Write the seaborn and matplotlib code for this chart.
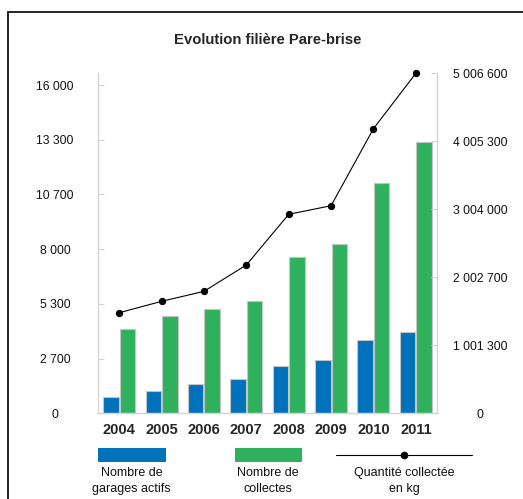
import matplotlib
matplotlib.use("Agg")
import matplotlib.pyplot as plt
from matplotlib.patches import Rectangle
from matplotlib.lines import Line2D
import numpy as np
import pandas as pd
import seaborn as sns

# data
years = ["2004", "2005", "2006", "2007", "2008", "2009", "2010", "2011"]
garages_actifs = [810, 1090, 1410, 1690, 2300, 2580, 3560, 3960]
collectes = [4110, 4730, 5100, 5490, 7630, 8240, 11220, 13240]
quantite_kg = [1481000, 1649000, 1796000, 2184000, 2930000, 3057000, 4191000, 5006600]

left_ticklabels = ["0", "2 700", "5 300", "8 000", "10 700", "13 300", "16 000"]
right_ticklabels = ["0", "1 001 300", "2 002 700", "3 004 000", "4 005 300", "5 006 600"]

series_names = ["Nombre de garages actifs", "Nombre de collectes"]
blue = "#0071bb"
green = "#2fb05d"
grey = "#d4d4d4"

sns.set_style("white")
plt.rcParams["font.family"] = ["Liberation Sans", "DejaVu Sans"]

df = pd.DataFrame({
    "annee": years * 2,
    "valeur": garages_actifs + collectes,
    "serie": [series_names[0]] * len(years) + [series_names[1]] * len(years),
})

fig = plt.figure(figsize=(5.23, 4.99), dpi=100)
ax = fig.add_axes([0.1874, 0.1717, 0.6482, 0.6814])

sns.barplot(data=df, x="annee", y="valeur", hue="serie", hue_order=series_names,
            palette=[blue, green], saturation=1, width=0.78, gap=0.06,
            edgecolor="#c4c4c4", linewidth=0.8, legend=False, ax=ax)

ax2 = ax.twinx()
sns.lineplot(x=np.arange(len(years)), y=quantite_kg, ax=ax2, color="black",
             linewidth=0.8, marker="o", markersize=4.5, markeredgecolor="black",
             clip_on=False)

# left axis: 16000 split in 6 steps, plot area a bit taller than the last tick
ax.set_ylim(0, 16000 * 340 / 328.3)
ax.set_yticks(np.linspace(0, 16000, 7))
ax.set_yticklabels(left_ticklabels)
ax2.set_ylim(0, 5006600)
ax2.set_yticks(np.linspace(0, 5006600, 6))
ax2.set_yticklabels(right_ticklabels)
ax.set_xlim(-0.5, len(years) - 0.5)
ax2.set_xlim(-0.5, len(years) - 0.5)

ax.set_xlabel("")
ax.set_ylabel("")
ax2.set_ylabel("")

for a in (ax, ax2):
    a.spines["top"].set_visible(False)
    for s in ("left", "right", "bottom"):
        a.spines[s].set_color(grey)
        a.spines[s].set_linewidth(1.0)
ax.spines["right"].set_visible(False)
ax2.spines["left"].set_visible(False)
ax2.spines["bottom"].set_visible(False)

ax.tick_params(axis="y", direction="in", length=4, color=grey, pad=31,
               labelsize=8.7, labelcolor="#111111")
ax2.tick_params(axis="y", direction="in", length=4, color=grey, pad=31,
                labelsize=8.7, labelcolor="#111111")
for lab in ax.get_yticklabels() + ax2.get_yticklabels():
    lab.set_horizontalalignment("center")

ax.tick_params(axis="x", which="major", length=0, pad=7, labelsize=10.5)
for lab in ax.get_xticklabels():
    lab.set_fontweight("bold")
ax.set_xticks(np.arange(len(years) + 1) - 0.5, minor=True)
ax.tick_params(axis="x", which="minor", direction="out", length=5, color=grey, width=1)

fig.text(0.5115, 0.92, "Evolution filière Pare-brise", ha="center", va="center",
         fontsize=10.7, fontweight="bold")

# legend drawn under the plot, labels under the keys
fig.add_artist(Rectangle((0.1868, 0.0735), 0.130, 0.0293, facecolor=blue,
                         edgecolor="none", transform=fig.transFigure))
fig.add_artist(Rectangle((0.4493, 0.0735), 0.1275, 0.0293, facecolor=green,
                         edgecolor="none", transform=fig.transFigure))
fig.add_artist(Line2D([0.6424, 0.9019], [0.0882, 0.0882], color="black", linewidth=0.8,
                      transform=fig.transFigure))
fig.add_artist(Line2D([0.7725], [0.0882], color="black", marker="o", markersize=4.5,
                      transform=fig.transFigure))
legend_text = [(0.2518, "Nombre de", "garages actifs"),
               (0.5124, "Nombre de", "collectes"),
               (0.7725, "Quantité collectée", "en kg")]
for xpos, l1, l2 in legend_text:
    fig.text(xpos, 0.0527, l1, ha="center", va="center", fontsize=9, color="#111111")
    fig.text(xpos, 0.020, l2, ha="center", va="center", fontsize=9, color="#111111")

# black frame around the chart (cut by the image edges on right/bottom)
fig.add_artist(Rectangle((0.0153, -0.1), 1.2, 1.076, facecolor="none", edgecolor="black",
                         linewidth=1.2, transform=fig.transFigure))

fig.savefig("out.png", dpi=100)
